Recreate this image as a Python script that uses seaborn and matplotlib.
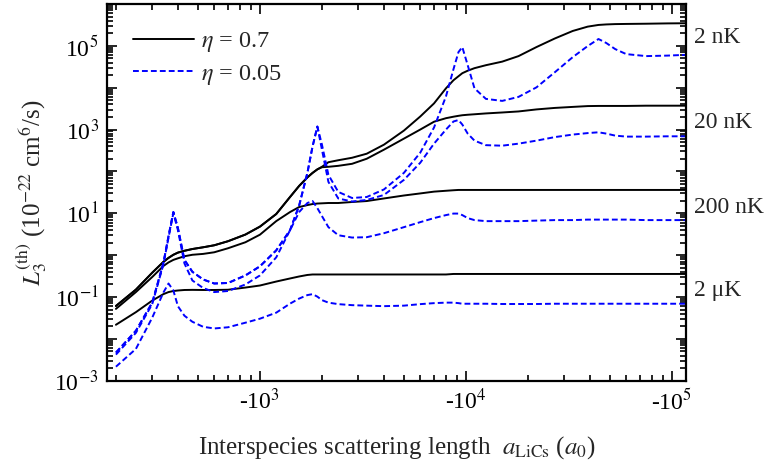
import matplotlib
matplotlib.use("Agg")
import matplotlib.pyplot as plt
import numpy as np
import pandas as pd
import seaborn as sns
from matplotlib.lines import Line2D
from matplotlib.ticker import FixedLocator, FuncFormatter, LogLocator, NullFormatter

# |a_LiCs| in units of a0 (the axis shows negative scattering lengths)
a_abs = [200, 250, 300, 340, 360, 380, 400, 430, 470, 530, 600, 700, 850, 1000,
         1200, 1400, 1550, 1700, 1800, 1900, 2000, 2150, 2400, 2800, 3300, 4000,
         5000, 6000, 7000, 8000, 8700, 9200, 9600, 10200, 11000, 12500, 15000,
         18000, 22000, 27000, 33000, 39000, 44000, 48000, 53000, 60000, 75000,
         95000, 118000]

temperatures = ["2 nK", "20 nK", "200 nK", "2 μK"]
eta_labels = ["0.7", "0.05"]

# Thermally averaged L3 in 1e-22 cm^6/s, eta = 0.7
L3_07_2nK = [0.061, 0.15, 0.38, 0.69, 0.86, 1.02, 1.15, 1.27, 1.40, 1.54,
             1.72, 2.15, 3.1, 4.8, 9.6, 24.5, 45, 72, 92, 112,
             129, 166, 185, 212, 265, 436, 946, 2050, 4220, 9680,
             15100, 18800, 22200, 25500, 29300, 34500, 42000, 56900, 93600, 150000,
             227000, 288000, 316000, 325000, 331000, 334000, 338000, 344000, 347000]
L3_07_20nK = [0.061, 0.15, 0.38, 0.69, 0.86, 1.02, 1.15, 1.27, 1.40, 1.54,
              1.72, 2.15, 3.1, 4.8, 9.6, 24.5, 45, 72, 92, 112,
              126, 129, 136, 152, 201, 331, 608, 1000, 1540, 1870,
              2030, 2130, 2200, 2260, 2320, 2430, 2560, 2710, 3030, 3290,
              3480, 3640, 3670, 3670, 3670, 3670, 3720, 3720, 3720]
L3_07_200nK = [0.052, 0.131, 0.30, 0.55, 0.67, 0.77, 0.84, 0.94, 1.02, 1.07,
               1.17, 1.46, 2.03, 3.08, 6.5, 10.7, 14.1, 15.7, 16.6, 17.1,
               17.3, 17.6, 17.6, 18.6, 19.6, 22.6, 26.6, 29.8, 32.9, 34.5,
               35.5, 36.1, 36.1, 36.1, 36.1, 36.1, 36.1, 36.1, 36.1, 36.1,
               36.1, 36.1, 36.1, 36.1, 36.1, 36.1, 36.1, 36.1, 36.1]
L3_07_2uK = [0.0217, 0.0434, 0.082, 0.117, 0.131, 0.139, 0.143, 0.147, 0.148, 0.147,
             0.147, 0.149, 0.168, 0.188, 0.234, 0.277, 0.309, 0.336, 0.345, 0.345,
             0.345, 0.345, 0.345, 0.345, 0.345, 0.345, 0.345, 0.345, 0.345, 0.345,
             0.355, 0.355, 0.355, 0.355, 0.355, 0.355, 0.355, 0.355, 0.355, 0.355,
             0.355, 0.355, 0.355, 0.355, 0.355, 0.355, 0.355, 0.355, 0.355]

# eta = 0.05
L3_005_2nK = [0.0047, 0.0156, 0.073, 0.65, 2.83, 10.7, 4.4, 0.77, 0.40, 0.262,
              0.210, 0.216, 0.327, 0.54, 1.30, 3.94, 15.3, 92.5, 390, 1180,
              436, 82.8, 32.4, 23.2, 24.5, 37.1, 92.5, 280, 1120, 6210,
              27700, 71000, 93600, 34500, 9680, 5410, 4840, 6040, 10200, 23400,
              53800, 98900, 145700, 117000, 83800, 63500, 56900, 58500, 61100]
L3_005_20nK = [0.0047, 0.0156, 0.073, 0.65, 2.83, 10.7, 4.4, 0.77, 0.40, 0.262,
               0.210, 0.216, 0.327, 0.54, 1.30, 3.94, 15.3, 92.5, 390, 1180,
               331, 56.2, 22.6, 19.1, 20.8, 27.4, 62.8, 161, 461, 1000,
               1560, 1690, 1320, 800, 544, 424, 412, 461, 544, 661,
               759, 824, 861, 801, 717, 679, 679, 690, 690]
L3_005_200nK = [0.0042, 0.0139, 0.0675, 0.60, 2.61, 10.1, 3.94, 0.635, 0.248, 0.164,
                0.131, 0.139, 0.199, 0.327, 0.885, 3.94, 10.7, 17.6, 19.6, 13.3,
                8.57, 4.66, 2.99, 2.63, 2.68, 3.34, 4.66, 6.14, 7.67, 9.05,
                9.84, 9.84, 9.05, 7.67, 6.87, 6.49, 6.49, 6.49, 6.68, 6.87,
                6.87, 7.06, 7.06, 7.06, 7.06, 7.06, 6.87, 6.87, 6.87]
L3_005_2uK = [0.00216, 0.00575, 0.032, 0.128, 0.210, 0.143, 0.060, 0.0357, 0.0256, 0.0194,
              0.0177, 0.0189, 0.0243, 0.0303, 0.0422, 0.0694, 0.0916, 0.111, 0.117, 0.102,
              0.0841, 0.0733, 0.0675, 0.0638, 0.0621, 0.0604, 0.0621, 0.0675, 0.0713, 0.0733,
              0.0733, 0.0713, 0.069, 0.069, 0.069, 0.069, 0.068, 0.068, 0.068, 0.069,
              0.069, 0.069, 0.069, 0.069, 0.069, 0.069, 0.069, 0.069, 0.069]

series = {
    ("0.7", "2 nK"): L3_07_2nK, ("0.7", "20 nK"): L3_07_20nK,
    ("0.7", "200 nK"): L3_07_200nK, ("0.7", "2 μK"): L3_07_2uK,
    ("0.05", "2 nK"): L3_005_2nK, ("0.05", "20 nK"): L3_005_20nK,
    ("0.05", "200 nK"): L3_005_200nK, ("0.05", "2 μK"): L3_005_2uK,
}
frames = [pd.DataFrame({"a": a_abs, "L3": vals, "eta": eta, "T": T})
          for (eta, T), vals in series.items()]
df = pd.concat(frames, ignore_index=True)

sns.set_theme(style="ticks")
plt.rcParams["font.family"] = ["Liberation Serif", "DejaVu Serif"]
plt.rcParams["mathtext.fontset"] = "stix"

fig = plt.figure(figsize=(7.68, 4.69), dpi=100)
ax = fig.add_axes([107 / 768, 1 - 380.7 / 469, 579 / 768, 376.7 / 469])

colors = {"0.7": "black", "0.05": "#0000ff"}
dash_styles = {"0.7": "", "0.05": (3.0, 1.6)}
for eta in eta_labels:
    sns.lineplot(data=df[df["eta"] == eta], x="a", y="L3", units="T",
                 estimator=None, sort=False, color=colors[eta],
                 style="eta", dashes={eta: dash_styles[eta]},
                 linewidth=1.4, legend=False, ax=ax)

ax.set_xscale("log")
ax.set_yscale("log")
ax.set_xlim(181, 1.17e5)
ax.set_ylim(1e-3, 1e6)

ax.xaxis.set_major_locator(FixedLocator([1e3, 1e4, 1e5]))
ax.xaxis.set_major_formatter(FuncFormatter(
    lambda v, p: r"-10$^{%d}$" % round(np.log10(v))))
ax.xaxis.set_minor_locator(LogLocator(base=10, subs=np.arange(2, 10), numticks=20))
ax.xaxis.set_minor_formatter(NullFormatter())

ax.yaxis.set_major_locator(FixedLocator([10.0 ** k for k in range(-3, 7)]))
ax.yaxis.set_major_formatter(FuncFormatter(
    lambda v, p: (r"10$^{%d}$" % round(np.log10(v))) if round(np.log10(v)) % 2 else ""))
ax.yaxis.set_minor_locator(LogLocator(base=10, subs=np.arange(2, 10), numticks=20))
ax.yaxis.set_minor_formatter(NullFormatter())

ax.tick_params(which="both", direction="in", top=True, right=True,
               width=1.2, labelsize=17, colors="black")
ax.tick_params(which="major", length=7, pad=6)
ax.tick_params(which="minor", length=4)
for sp in ax.spines.values():
    sp.set_linewidth(1.6)
    sp.set_color("black")

ax.set_xlabel(r"Interspecies scattering length  $a_{\mathrm{LiCs}}$ ($a_0$)",
              fontsize=18, labelpad=14)
ax.set_ylabel(r"$L_3^{(\mathrm{th})}$ (10$^{-22}$ cm$^6$/s)", fontsize=18, labelpad=4)

# temperature tags beside the right axis
tag_y = [1.6e5, 1.5e3, 14, 0.14]
for T, yv in zip(temperatures, tag_y):
    ax.text(1.014, yv, T, transform=ax.get_yaxis_transform(), fontsize=17,
            va="center", ha="left")

handles = [Line2D([], [], color=colors[e], lw=1.4,
                  linestyle="-" if e == "0.7" else (0, dash_styles[e]))
           for e in eta_labels]
ax.legend(handles, [r"$\eta$ = 0.7", r"$\eta$ = 0.05"], loc="upper left",
          bbox_to_anchor=(0.045, 0.93), frameon=False, fontsize=17.5,
          handlelength=2.5, handletextpad=0.3, labelspacing=0.35,
          borderpad=0, borderaxespad=0)

fig.savefig("out.png", dpi=100)
